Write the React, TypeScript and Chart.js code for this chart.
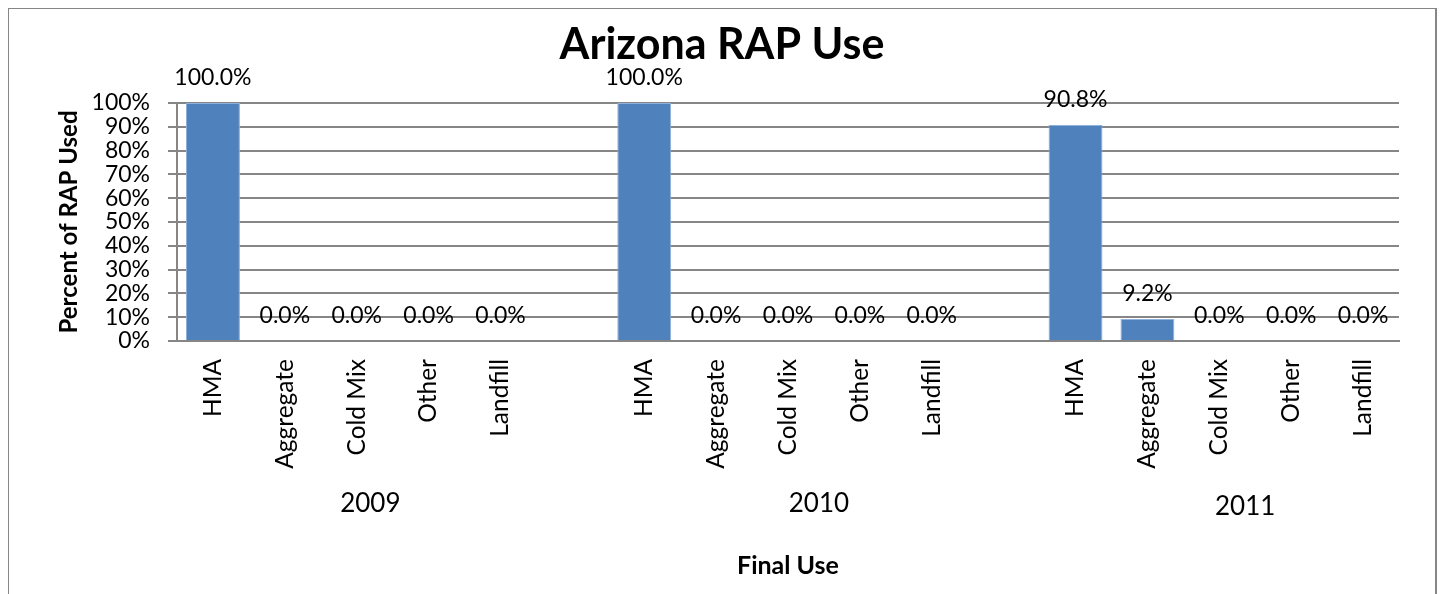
import React, { useEffect, useRef } from "react";
import { Chart, registerables } from "chart.js";

Chart.register(...registerables);

// ---- data ----
const finalUses = ["HMA", "Aggregate", "Cold Mix", "Other", "Landfill"];
const years = ["2009", "2010", "2011"];
const pct2009 = [100.0, 0.0, 0.0, 0.0, 0.0];
const pct2010 = [100.0, 0.0, 0.0, 0.0, 0.0];
const pct2011 = [90.8, 9.2, 0.0, 0.0, 0.0];
const yTicks = [0, 10, 20, 30, 40, 50, 60, 70, 80, 90, 100];

const FONT = "Lato, 'Open Sans', sans-serif";

// build flat category list with an empty slot between year groups
const groups = [pct2009, pct2010, pct2011];
const labels: string[] = [];
const values: (number | null)[] = [];
const groupStart: number[] = [];
groups.forEach((g, gi) => {
  if (gi > 0) {
    labels.push("");
    values.push(null);
  }
  groupStart.push(labels.length);
  finalUses.forEach((u, i) => {
    labels.push(u);
    values.push(g[i]);
  });
});

const yearOffsets = [0.19, 0.43, 0.36]; // fraction of a category, fine placement of group captions
const yearDy = [0, 0, 3];

const valueLabelPlugin = {
  id: "valueLabels",
  afterDatasetsDraw(chart: any) {
    const { ctx } = chart;
    const meta = chart.getDatasetMeta(0);
    ctx.save();
    ctx.font = `23px ${FONT}`;
    ctx.fillStyle = "#000";
    ctx.textAlign = "center";
    ctx.textBaseline = "alphabetic";
    meta.data.forEach((bar: any, i: number) => {
      const v = values[i];
      if (v === null || v === undefined) return;
      ctx.fillText(v.toFixed(1) + "%", bar.x, bar.y - 18);
    });
    ctx.restore();
  },
};

const yearLabelPlugin = {
  id: "yearLabels",
  afterDraw(chart: any) {
    const { ctx } = chart;
    const xs = chart.scales.x;
    const step = xs.getPixelForValue(1) - xs.getPixelForValue(0);
    ctx.save();
    ctx.font = `26px ${FONT}`;
    ctx.fillStyle = "#000";
    ctx.textAlign = "center";
    ctx.textBaseline = "middle";
    years.forEach((yr, gi) => {
      const mid = groupStart[gi] + (finalUses.length - 1) / 2;
      const x = xs.getPixelForValue(mid) + yearOffsets[gi] * step;
      ctx.fillText(yr, x, chart.chartArea.bottom + 163 + yearDy[gi]);
    });
    ctx.restore();
  },
};

export default function App() {
  const ref = useRef<HTMLCanvasElement | null>(null);

  useEffect(() => {
    if (!ref.current) return;
    const chart = new Chart(ref.current, {
      type: "bar",
      data: {
        labels,
        datasets: [
          {
            data: values,
            backgroundColor: "#4F81BD",
            borderColor: "#8eb0dc",
            borderWidth: 1,
            categoryPercentage: 1,
            barPercentage: 0.75,
          },
        ],
      },
      options: {
        animation: false,
        responsive: true,
        maintainAspectRatio: false,
        layout: { padding: { left: 0, right: 0, top: 0, bottom: 0 } },
        plugins: {
          legend: { display: false },
          tooltip: { enabled: false },
          title: {
            display: true,
            text: "Arizona RAP Use",
            color: "#000",
            font: { family: FONT, size: 43, weight: "bold", lineHeight: 1.2 },
            padding: { top: 10, bottom: 32.4 },
          },
        },
        scales: {
          x: {
            grid: { display: false, drawTicks: false },
            border: { display: true, color: "#868686", width: 2 },
            ticks: {
              autoSkip: false,
              maxRotation: 90,
              minRotation: 90,
              padding: 18,
              color: "#000",
              font: { family: FONT, size: 24.5 },
            },
            title: {
              display: true,
              text: "Final Use",
              color: "#000",
              font: { family: FONT, size: 25, weight: "bold", lineHeight: 1.2 },
              padding: { top: 0, bottom: 12 },
            },
            afterFit(scale: any) {
              scale.height = 252;
            },
          },
          y: {
            min: 0,
            max: 100,
            afterBuildTicks(scale: any) {
              scale.ticks = yTicks.map((v) => ({ value: v }));
            },
            grid: {
              color: "#868686",
              lineWidth: 2,
              drawTicks: true,
              tickLength: 9,
            },
            border: { display: true, color: "#868686", width: 2 },
            ticks: {
              autoSkip: false,
              padding: 18,
              color: "#000",
              font: { family: FONT, size: 23, lineHeight: 1 },
              callback: (v: any) => `${v}%`,
            },
            title: {
              display: true,
              text: "Percent of RAP Used",
              color: "#000",
              font: { family: FONT, size: 24, weight: "bold", lineHeight: 1.2 },
              padding: { top: 46, bottom: 0 },
            },
            afterFit(scale: any) {
              scale.width = 168;
            },
          },
          // empty right-hand spacer so the plot ends short of the frame while the title stays centred on the frame
          spacer: {
            type: "linear",
            position: "right",
            display: true,
            grid: { display: false, drawTicks: false },
            border: { display: false },
            ticks: { display: false },
            afterFit(scale: any) {
              scale.width = 36;
            },
          },
        },
      },
      plugins: [valueLabelPlugin, yearLabelPlugin],
    });
    return () => chart.destroy();
  }, []);

  return (
    <div
      style={{
        width: 1426,
        height: 586,
        borderTop: "2px solid #868686",
        borderLeft: "2px solid #868686",
        borderRight: "2px solid #868686",
        boxSizing: "content-box",
        background: "#fff",
        position: "relative",
        marginTop: -1,
        marginLeft: -1,
      }}
    >
      <div style={{ position: "relative", width: 1426, height: 584 }}>
        <canvas ref={ref} />
      </div>
    </div>
  );
}
